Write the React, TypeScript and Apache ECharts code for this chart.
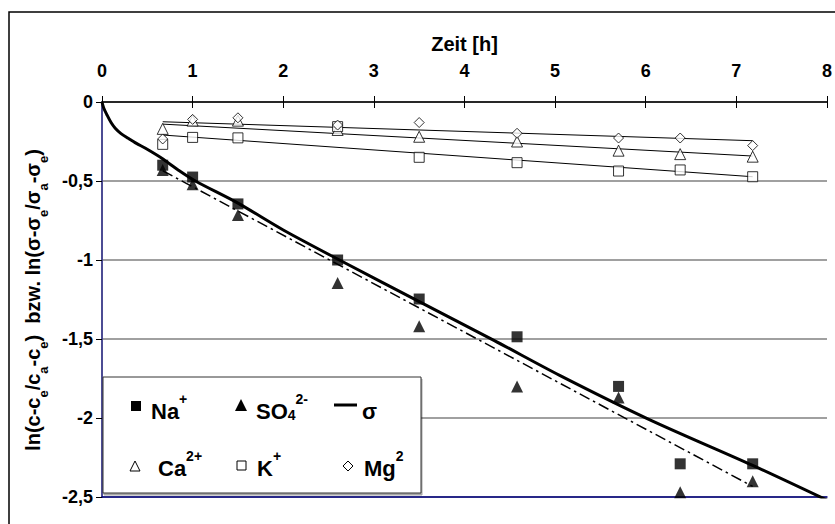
import React, { useEffect, useRef } from "react";
import * as echarts from "echarts";

// ---- data ----
const timeH = [0.67, 1.0, 1.5, 2.6, 3.5, 4.58, 5.7, 6.38, 7.18];
const naValues = [-0.4, -0.475, -0.645, -1.0, -1.247, -1.486, -1.8, -2.29, -2.29];
const so4Values = [-0.43, -0.52, -0.715, -1.146, -1.42, -1.8, -1.87, -2.47, -2.4];
const caValues = [-0.17, -0.118, -0.118, -0.177, -0.22, -0.25, -0.308, -0.33, -0.346];
const kValues = [-0.268, -0.224, -0.227, -0.156, -0.35, -0.384, -0.437, -0.43, -0.473];
const mgValues = [-0.234, -0.11, -0.1, -0.146, -0.13, -0.198, -0.228, -0.228, -0.276];

const sigmaTime = [0, 0.02, 0.055, 0.1, 0.146, 0.21, 0.29, 0.38, 0.48, 0.66, 0.84, 1.03, 1.5, 2.0, 2.62, 3.49, 4.33, 5.05, 6.04, 7.18, 8.0];
const sigmaValues = [0, -0.04, -0.082, -0.13, -0.166, -0.2, -0.23, -0.262, -0.293, -0.356, -0.43, -0.5, -0.64, -0.81, -1.0, -1.26, -1.51, -1.73, -2.01, -2.3, -2.52];

const fitTime = [0.67, 7.18];
const so4Fit = [-0.435, -2.433];
const caFit = [-0.14, -0.342];
const kFit = [-0.209, -0.473];
const mgFit = [-0.125, -0.245];

const xTicks = { min: 0, max: 8, interval: 1 };
const yTicks = { min: -2.5, max: 0, interval: 0.5 };

const FONT = "'Liberation Sans', Arial, sans-serif";

const pairs = (xs: number[], ys: number[]) => xs.map((x, i) => [x, ys[i]]);

export default function App() {
  const ref = useRef<HTMLDivElement>(null);

  useEffect(() => {
    if (!ref.current) return;
    const chart = echarts.init(ref.current, undefined, { renderer: "svg" });

    const big = { fontSize: 22, fontWeight: "bold", fontFamily: FONT, fill: "#000", lineHeight: 30, verticalAlign: "bottom" };
    const sup = { fontSize: 14, fontWeight: "bold", fontFamily: FONT, fill: "#000", lineHeight: 14, verticalAlign: "top" };
    const sub = { fontSize: 14, fontWeight: "bold", fontFamily: FONT, fill: "#000", lineHeight: 14, verticalAlign: "bottom" };
    const legendRich = { b: big, sup, sub };

    const yb = { fontSize: 20, fontWeight: "bold", fontFamily: FONT, fill: "#000", lineHeight: 28, verticalAlign: "top" };
    const ys = { fontSize: 13, fontWeight: "bold", fontFamily: FONT, fill: "#000", lineHeight: 28, verticalAlign: "top", padding: [14, 0, 0, 0] };

    const legendText = (x: number, y: number, text: string) => ({
      type: "text",
      x,
      y,
      z: 101,
      style: { text, rich: legendRich, verticalAlign: "middle", align: "left" },
    });

    const hollow = { fill: "#fff", stroke: "#000", lineWidth: 1 };
    const filled = { fill: "#000" };

    const option: any = {
      animation: false,
      backgroundColor: "#fff",
      grid: { left: 102, top: 102, width: 726, height: 395, containLabel: false },
      xAxis: [
        {
          type: "value",
          position: "top",
          ...xTicks,
          name: "Zeit [h]",
          nameLocation: "middle",
          nameGap: 48,
          nameTextStyle: { fontSize: 20, fontWeight: "bold", fontFamily: FONT, color: "#000" },
          axisLine: { show: true, lineStyle: { color: "#000", width: 1.5 } },
          axisTick: { show: true, inside: true, length: 6, lineStyle: { color: "#000" } },
          axisLabel: { fontSize: 18, fontWeight: "bold", fontFamily: FONT, color: "#000", margin: 22 },
          splitLine: { show: false },
        },
        {
          type: "value",
          position: "top",
          ...xTicks,
          axisLine: { show: false },
          axisTick: { show: true, inside: false, length: 6, lineStyle: { color: "#000" } },
          axisLabel: { show: false },
          splitLine: { show: false },
        },
        {
          type: "value",
          position: "bottom",
          ...xTicks,
          axisLine: { show: true, lineStyle: { color: "#000080", width: 1.5 } },
          axisTick: { show: false },
          axisLabel: { show: false },
          splitLine: { show: false },
        },
      ],
      yAxis: [
        {
          type: "value",
          position: "left",
          ...yTicks,
          axisLine: { show: true, lineStyle: { color: "#000", width: 1.5 } },
          axisTick: { show: true, inside: false, length: 6, lineStyle: { color: "#000" } },
          axisLabel: {
            fontSize: 18,
            fontWeight: "bold",
            fontFamily: FONT,
            color: "#000",
            margin: 9,
            formatter: (v: number) => String(v).replace(".", ","),
          },
          splitLine: { show: true, lineStyle: { color: "#808080", width: 1.5 } },
        },
        {
          type: "value",
          position: "right",
          ...yTicks,
          axisLine: { show: true, lineStyle: { color: "#5050b0", width: 1.5 } },
          axisTick: { show: false },
          axisLabel: { show: false },
          splitLine: { show: false },
        },
      ],
      series: [
        { name: "Ca fit", type: "line", data: pairs(fitTime, caFit), symbol: "none", lineStyle: { color: "#000", width: 1 }, z: 2 },
        { name: "K fit", type: "line", data: pairs(fitTime, kFit), symbol: "none", lineStyle: { color: "#000", width: 1 }, z: 2 },
        { name: "Mg fit", type: "line", data: pairs(fitTime, mgFit), symbol: "none", lineStyle: { color: "#000", width: 1 }, z: 2 },
        {
          name: "SO4 fit",
          type: "line",
          data: pairs(fitTime, so4Fit),
          symbol: "none",
          lineStyle: { color: "#000", width: 1.5, type: [11, 4, 2.5, 4] },
          z: 2,
        },
        {
          name: "σ",
          type: "line",
          data: pairs(sigmaTime, sigmaValues),
          symbol: "none",
          smooth: 0.3,
          lineStyle: { color: "#000", width: 3 },
          z: 3,
        },
        { name: "Ca2+", type: "scatter", data: pairs(timeH, caValues), symbol: "triangle", symbolSize: 11, itemStyle: { color: "#fff", borderColor: "#000", borderWidth: 1 }, z: 4 },
        { name: "K+", type: "scatter", data: pairs(timeH, kValues), symbol: "rect", symbolSize: 10, itemStyle: { color: "#fff", borderColor: "#000", borderWidth: 1 }, z: 4 },
        { name: "Mg2", type: "scatter", data: pairs(timeH, mgValues), symbol: "diamond", symbolSize: [10, 10], itemStyle: { color: "#fff", borderColor: "#000", borderWidth: 1 }, z: 4 },
        { name: "Na+", type: "scatter", data: pairs(timeH, naValues), symbol: "rect", symbolSize: 11, itemStyle: { color: "#000" }, z: 5 },
        { name: "SO42-", type: "scatter", data: pairs(timeH, so4Values), symbol: "triangle", symbolSize: 12, itemStyle: { color: "#000" }, z: 5 },
      ],
      graphic: [
        // outer frame
        { type: "rect", shape: { x: 9, y: 12, width: 840, height: 540 }, style: { fill: "none", stroke: "#000", lineWidth: 1.5 }, z: 0, silent: true },
        // y axis title
        {
          type: "text",
          x: 37,
          y: 300,
          rotation: Math.PI / 2,
          z: 100,
          style: {
            text:
              "{b|ln(c-c}{s|e}{b|/c}{s|a}{b|-c}{s|e}{b|)  bzw. ln(σ-σ}{s|e}{b|/σ}{s|a}{b|-σ}{s|e}{b|)}",
            rich: { b: yb, s: ys },
            align: "center",
            verticalAlign: "middle",
          },
        },
        // legend box
        {
          type: "rect",
          shape: { x: 103, y: 377, width: 318, height: 116 },
          style: { fill: "#fff", stroke: "#333", lineWidth: 1, shadowColor: "rgba(0,0,0,0.35)", shadowOffsetX: 1, shadowOffsetY: 2, shadowBlur: 0 },
          z: 100,
        },
        { type: "rect", shape: { x: 131, y: 401, width: 10, height: 10 }, style: filled, z: 101 },
        legendText(151, 407, "{b|Na}{sup|+}"),
        { type: "polygon", shape: { points: [[241, 399], [247, 411], [235, 411]] }, style: filled, z: 101 },
        legendText(256, 407, "{b|SO}{sub|4}{sup|2-}"),
        { type: "line", shape: { x1: 334, y1: 405, x2: 357, y2: 405 }, style: { stroke: "#000", lineWidth: 3 }, z: 101 },
        legendText(362, 407, "{b|σ}"),
        { type: "polygon", shape: { points: [[135, 461], [140, 471], [130, 471]] }, style: hollow, z: 101 },
        legendText(158, 464, "{b|Ca}{sup|2+}"),
        { type: "rect", shape: { x: 237, y: 461, width: 9, height: 9 }, style: hollow, z: 101 },
        legendText(257, 464, "{b|K}{sup|+}"),
        { type: "polygon", shape: { points: [[348, 461], [353, 466], [348, 471], [343, 466]] }, style: hollow, z: 101 },
        legendText(364, 464, "{b|Mg}{sup|2}"),
      ],
    };

    chart.setOption(option);
    return () => chart.dispose();
  }, []);

  return (
    <div
      ref={ref}
      style={{ position: "fixed", left: 0, top: 0, width: 835, height: 524, background: "#fff" }}
    />
  );
}
